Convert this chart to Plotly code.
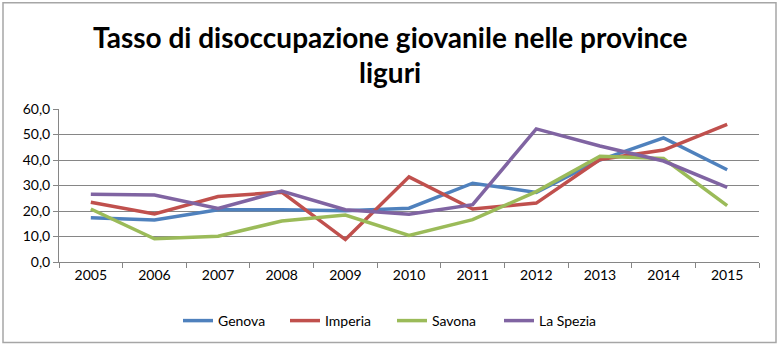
import plotly.graph_objects as go

years = ["2005", "2006", "2007", "2008", "2009", "2010", "2011", "2012", "2013", "2014", "2015"]
genova = [17.4, 16.5, 20.5, 20.5, 20.1, 21.1, 30.9, 27.3, 40.0, 48.7, 36.2]
imperia = [23.4, 18.8, 25.7, 27.4, 8.8, 33.4, 20.8, 23.1, 40.2, 43.9, 54.0]
savona = [20.8, 9.1, 10.1, 16.1, 18.4, 10.4, 16.6, 27.6, 41.5, 40.6, 22.1]
la_spezia = [26.6, 26.3, 21.0, 27.8, 20.5, 18.7, 22.5, 52.2, 45.5, 39.6, 29.3]

title_lines = ["Tasso di disoccupazione giovanile nelle province", "liguri"]

series = [
    ("Genova", genova, "#4F81BD"),
    ("Imperia", imperia, "#C0504D"),
    ("Savona", savona, "#9BBB59"),
    ("La Spezia", la_spezia, "#8064A2"),
]

W, H = 780, 347
L, R, T, B = 59, 21, 109, 84
pw, ph = W - L - R, H - T - B


def py(pix):
    """Convert a pixel row of the page into paper y coordinates."""
    return ((H - B) - pix) / ph


def px(pix):
    """Convert a pixel column of the page into paper x coordinates."""
    return (pix - L) / pw


fig = go.Figure()
for name, vals, color in series:
    fig.add_trace(go.Scatter(
        x=years, y=vals, name=name, mode="lines",
        line=dict(color=color, width=3.5),
    ))

font_main = "Lato, Carlito, Calibri, sans-serif"

title_annotations = [
    dict(text=f"<b>{line}</b>", xref="paper", yref="paper",
         x=px(390), y=py(yc), xanchor="center", yanchor="middle",
         showarrow=False, font=dict(family=font_main, size=28, color="#000000"))
    for line, yc in zip(title_lines, [37, 72])
]

fig.update_layout(
    width=W, height=H,
    margin=dict(l=L, r=R, t=T, b=B),
    paper_bgcolor="white", plot_bgcolor="white",
    separators=",.",
    font=dict(family=font_main, size=14, color="#000000"),
    annotations=title_annotations,
    showlegend=True,
    legend=dict(
        orientation="h", x=px(392), xanchor="center",
        y=py(321), yanchor="middle",
        font=dict(family=font_main, size=14),
        itemwidth=30, entrywidth=62, entrywidthmode="pixels",
    ),
    xaxis=dict(
        type="category", showgrid=False,
        showline=True, linecolor="#868686", linewidth=1,
        ticks="outside", tickson="boundaries", ticklen=5, tickcolor="#868686",
        tickfont=dict(size=14), range=[-0.5, 10.5],
    ),
    yaxis=dict(
        range=[0, 60], dtick=10, tickformat=".1f",
        showgrid=True, gridcolor="#868686", gridwidth=1,
        showline=True, linecolor="#868686", linewidth=1,
        ticks="outside", ticklen=5, tickcolor="#868686",
        tickfont=dict(size=14), zeroline=False,
    ),
    shapes=[dict(
        type="rect", xref="paper", yref="paper",
        x0=px(3), x1=px(776), y0=py(344), y1=py(2),
        line=dict(color="#A6A6A6", width=1.5),
        fillcolor="rgba(0,0,0,0)", layer="below",
    )],
)

fig.write_html("out.html")
